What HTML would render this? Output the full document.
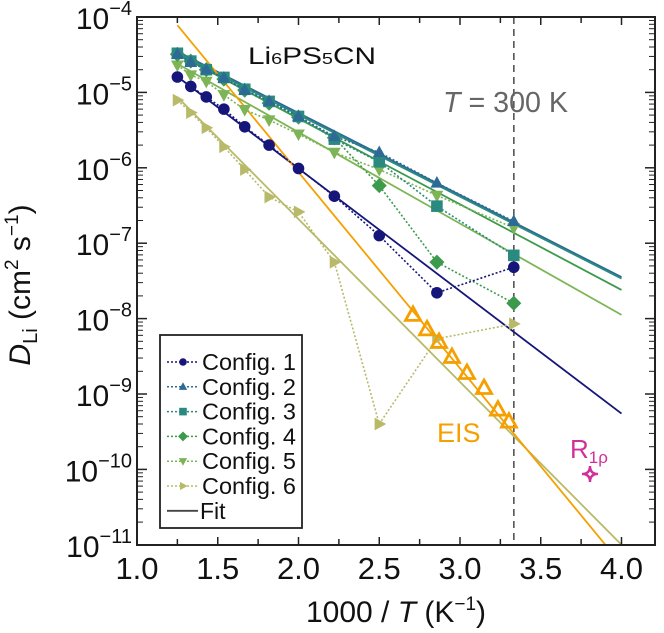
<!DOCTYPE html>
<html><head><meta charset="utf-8"><style>
html,body{margin:0;padding:0;background:#fff;}
svg{display:block;font-family:"Liberation Sans",Arial,sans-serif;}
</style></head><body>
<svg id="chart" width="664" height="633" viewBox="0 0 664 633" xmlns="http://www.w3.org/2000/svg">
<defs><clipPath id="plotclip"><rect x="137" y="17" width="518" height="528"/></clipPath></defs>
<g id="grid"></g>
<g id="marks" clip-path="url(#plotclip)"></g>
<rect x="137" y="17" width="518" height="528" fill="none" stroke="#222" stroke-width="2"/>
<g id="ticks"></g>
<text x="248" y="64" font-size="24" fill="#111" textLength="128" lengthAdjust="spacingAndGlyphs">Li<tspan font-size="16">6</tspan>PS<tspan font-size="16">5</tspan>CN</text>
<text x="443" y="112" font-size="29" fill="#666" textLength="125" lengthAdjust="spacingAndGlyphs"><tspan font-style="italic">T</tspan> = 300 K</text>
<text x="437" y="442" font-size="27" fill="#f5a000">EIS</text>
<text x="570" y="458" font-size="26" fill="#d0309a">R<tspan font-size="17" dy="5">1ρ</tspan></text>
<text x="396" y="622" font-size="30" text-anchor="middle" fill="#111">1000 / <tspan font-style="italic">T</tspan> (K<tspan font-size="19" dy="-12">−1</tspan><tspan dy="12">)</tspan></text>
<text transform="translate(30,285) rotate(-90)" font-size="30" text-anchor="middle" fill="#111"><tspan font-style="italic">D</tspan><tspan font-size="20" dy="7">Li</tspan><tspan dy="-7"> (cm</tspan><tspan font-size="19" dy="-12">2</tspan><tspan dy="12"> s</tspan><tspan font-size="19" dy="-12">−1</tspan><tspan dy="12">)</tspan></text>
<g id="legend"></g>
</svg>
<script>
const invT = [1.25,1.333,1.429,1.538,1.667,1.818,2.0,2.222,2.5,2.857,3.333];
const config1 = [1.6e-5,1.2e-5,8.7e-6,6.0e-6,3.5e-6,2.0e-6,9.8e-7,4.2e-7,1.26e-7,2.2e-8,4.8e-8];
const config2 = [3.2e-5,2.5e-5,2.0e-5,1.55e-5,1.07e-5,7.6e-6,4.8e-6,2.6e-6,1.6e-6,6.3e-7,1.95e-7];
const config3 = [3.3e-5,2.6e-5,2.0e-5,1.58e-5,1.1e-5,7.6e-6,4.8e-6,2.4e-6,1.2e-6,3.1e-7,6.9e-8];
const config4 = [3.2e-5,2.6e-5,2.0e-5,1.5e-5,1.07e-5,7.2e-6,4.7e-6,2.5e-6,5.8e-7,5.6e-8,1.6e-8];
const config5 = [2.3e-5,1.7e-5,1.4e-5,9.3e-6,5.9e-6,4.3e-6,2.8e-6,1.6e-6,9.5e-7,4.3e-7,1.6e-7];
const config6 = [7.9e-6,5.4e-6,3.4e-6,1.9e-6,9.5e-7,4.1e-7,2.6e-7,5.6e-8,4.0e-10,5.4e-9,8.5e-9];
const fitStart = [1.62e-5,3.5e-5,3.3e-5,3.2e-5,2.4e-5,8.7e-6];
const fitEnd = [5.5e-10,3.55e-8,3.4e-8,2.4e-8,1.12e-8,1.0e-11];
const eisInvT = [2.709,2.796,2.870,2.950,3.043,3.149,3.235,3.303];
const eisD = [1.12e-8,7.2e-9,4.9e-9,3.1e-9,1.9e-9,1.2e-9,6.2e-10,4.3e-10];
const eisFitStart = 7.8e-5;
const eisFitEnd = 5.5e-12;
const r1rhoInvT = [3.805];
const r1rhoD = [8.7e-11];
const xTicks = [1.0,1.5,2.0,2.5,3.0,3.5,4.0];
const xTickLabels = ["1.0","1.5","2.0","2.5","3.0","3.5","4.0"];
const yExps = [-4,-5,-6,-7,-8,-9,-10,-11];
const legendLabels = ["Config. 1","Config. 2","Config. 3","Config. 4","Config. 5","Config. 6","Fit"];

const NS="http://www.w3.org/2000/svg";
const X0=137, XW=161.5, Y0=17, DEC=75.4;
const xs=t=>X0+(t-1)*XW;
const ys=v=>Y0+(-4-Math.log10(v))*DEC;
function mk(parent,tag,attrs){const e=document.createElementNS(NS,tag);for(const k in attrs)e.setAttribute(k,attrs[k]);parent.appendChild(e);return e;}
const marks=document.getElementById('marks'), ticks=document.getElementById('ticks'), legend=document.getElementById('legend');
const colors=["#15157a","#2d6a96","#2a8a80","#3c9a4c","#7db556","#b9b96a"];
const shapes=["circle","up","square","diamond","down","right"];
const series=[config1,config2,config3,config4,config5,config6];

function marker(g,shape,cx,cy,r,col){
  let p;
  if(shape==="circle"){p=mk(g,'circle',{cx:cx,cy:cy,r:r,fill:col});return p;}
  if(shape==="square")p=[[-r,-r],[r,-r],[r,r],[-r,r]];
  if(shape==="diamond")p=[[0,-r*1.3],[r*1.3,0],[0,r*1.3],[-r*1.3,0]];
  if(shape==="up")p=[[0,-r*1.2],[r*1.1,r*0.8],[-r*1.1,r*0.8]];
  if(shape==="down")p=[[0,r*1.2],[r*1.1,-r*0.8],[-r*1.1,-r*0.8]];
  if(shape==="right")p=[[r*1.2,0],[-r*0.8,r*1.1],[-r*0.8,-r*1.1]];
  return mk(g,'polygon',{points:p.map(q=>(cx+q[0])+','+(cy+q[1])).join(' '),fill:col});
}

const dl=mk(marks,'line',{x1:xs(1000/300),x2:xs(1000/300),y1:17,y2:545,stroke:'#555','stroke-width':1.6,'stroke-dasharray':'7,5'});



for(let i=0;i<6;i++){
  const l=mk(marks,'line',{x1:xs(1.25),y1:ys(fitStart[i]),x2:xs(4.0),y2:ys(fitEnd[i]),stroke:colors[i],'stroke-width':1.8});
  
  
}
const ef=mk(marks,'line',{x1:xs(1.25),y1:ys(eisFitStart),x2:xs(4.0),y2:ys(eisFitEnd),stroke:'#f5a000','stroke-width':1.8});



for(let i=5;i>=0;i--){
  const g=mk(marks,'g',{});
  
  
  const d=series[i];
  const pl=mk(g,'polyline',{points:invT.map((t,j)=>xs(t)+','+ys(d[j])).join(' '),fill:'none',stroke:colors[i],'stroke-width':1.6,'stroke-dasharray':'2,2'});
  
  
  invT.forEach((t,j)=>{
    const m=marker(g,shapes[i],xs(t),ys(d[j]),5.8,colors[i]);
    
    
  });
}
const eg=mk(marks,'g',{});


eisInvT.forEach((t,j)=>{
  const cx=xs(t),cy=ys(eisD[j]);
  const m=mk(eg,'polygon',{points:`${cx},${cy-8} ${cx+7.5},${cy+5.5} ${cx-7.5},${cy+5.5}`,fill:'none',stroke:'#f5a000','stroke-width':2.8});
  
  
});
r1rhoInvT.forEach((t,j)=>{
  const cx=xs(t),cy=ys(r1rhoD[j]),r=8;
  const m=mk(marks,'path',{d:`M${cx},${cy-r} Q${cx},${cy} ${cx+r},${cy} Q${cx},${cy} ${cx},${cy+r} Q${cx},${cy} ${cx-r},${cy} Q${cx},${cy} ${cx},${cy-r}Z`,fill:'none',stroke:'#d0309a','stroke-width':2.4});
  
  
});

for(let t=1.0;t<=4.21;t+=0.25){
  const x=xs(t), major=Math.abs((t*2)-Math.round(t*2))<1e-6;
  const L=major?8:6;
  mk(ticks,'line',{x1:x,x2:x,y1:545,y2:545-L,stroke:'#222','stroke-width':1.5});
  mk(ticks,'line',{x1:x,x2:x,y1:17,y2:17+L,stroke:'#222','stroke-width':1.5});
}
xTicks.forEach((t,i)=>{
  const tx=mk(ticks,'text',{x:xs(t),y:579,'font-size':31,'text-anchor':'middle',fill:'#111'});
  tx.textContent=xTickLabels[i];
  
  
});
yExps.forEach((e,i)=>{
  const y=ys(Math.pow(10,e));
  mk(ticks,'line',{x1:137,x2:147,y1:y,y2:y,stroke:'#222','stroke-width':1.5});
  mk(ticks,'line',{x1:655,x2:645,y1:y,y2:y,stroke:'#222','stroke-width':1.5});
  if(e>-11){for(let k=2;k<=9;k++){const yy=ys(k*Math.pow(10,e-1));
    mk(ticks,'line',{x1:137,x2:143,y1:yy,y2:yy,stroke:'#222','stroke-width':1});
    mk(ticks,'line',{x1:655,x2:649,y1:yy,y2:yy,stroke:'#222','stroke-width':1});}}
  const tx=mk(ticks,'text',{x:132,y:y+12,'font-size':30,'text-anchor':'end',fill:'#111'});
  
  
  const a=mk(tx,'tspan',{});a.textContent='10';
  const b=mk(tx,'tspan',{'font-size':20,dy:-14});b.textContent='−'+(-e);
});

const lb=mk(legend,'rect',{x:160,y:335,width:142,height:193,fill:'#fff',stroke:'#222','stroke-width':1.8});


legendLabels.forEach((lab,i)=>{
  const y=362+i*24.8;
  const g=mk(legend,'g',{});
  
  
  if(i<6){
    mk(g,'line',{x1:167,x2:198,y1:y,y2:y,stroke:colors[i],'stroke-width':1.5,'stroke-dasharray':'2,2'});
    marker(g,shapes[i],183,y,3.8,colors[i]);
  } else {
    mk(g,'line',{x1:167,x2:198,y1:y,y2:y,stroke:'#444','stroke-width':1.8});
  }
  const t=mk(g,'text',{x:i<6?202:200,y:y+8,'font-size':23,fill:'#111'});
  if(i<6){t.setAttribute('textLength','94');t.setAttribute('lengthAdjust','spacingAndGlyphs');}
  t.textContent=lab;
});
</script>
</body></html>
